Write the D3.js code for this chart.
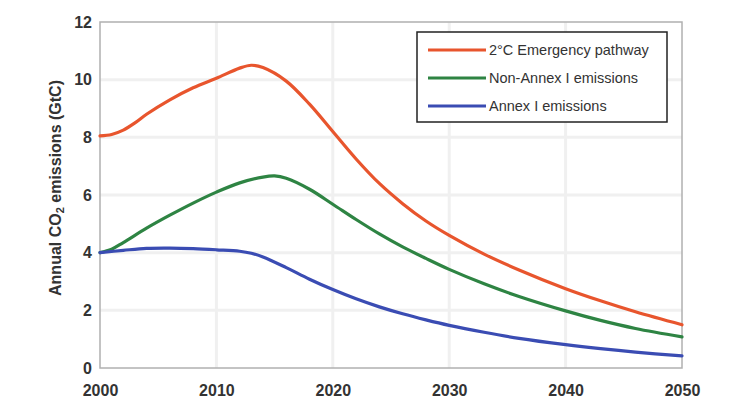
<!DOCTYPE html>
<html>
<head>
<meta charset="utf-8">
<script src="https://cdn.jsdelivr.net/npm/d3@7/dist/d3.min.js"></script>
<style>
  html, body { margin: 0; padding: 0; background: #fff; }
  svg { display: block; }
</style>
</head>
<body>
<svg id="chart" width="734" height="401"></svg>
<script>
// ---- data ----
const seriesNames = ["2°C Emergency pathway", "Non-Annex I emissions", "Annex I emissions"];
const seriesColors = ["#e8552d", "#2e8443", "#3a4cb3"];

const emergencyYears  = [2000, 2001, 2002, 2003, 2004, 2006, 2008, 2010, 2012, 2013, 2014, 2016, 2018, 2020, 2022, 2024, 2026, 2028, 2030, 2033, 2036, 2040, 2043, 2046, 2050];
const emergencyValues = [8.05, 8.1, 8.25, 8.5, 8.8, 9.3, 9.72, 10.05, 10.4, 10.5, 10.42, 9.95, 9.15, 8.2, 7.25, 6.4, 5.7, 5.1, 4.6, 3.95, 3.4, 2.75, 2.33, 1.95, 1.5];

const nonAnnexYears  = [2000, 2001, 2002, 2004, 2006, 2008, 2010, 2012, 2014, 2015, 2016, 2018, 2020, 2022, 2024, 2026, 2028, 2030, 2033, 2036, 2040, 2043, 2046, 2050];
const nonAnnexValues = [4.0, 4.12, 4.35, 4.85, 5.3, 5.72, 6.1, 6.42, 6.62, 6.66, 6.58, 6.2, 5.68, 5.15, 4.65, 4.2, 3.8, 3.42, 2.92, 2.48, 1.98, 1.65, 1.37, 1.08];

const annexYears  = [2000, 2002, 2004, 2006, 2008, 2010, 2012, 2013, 2014, 2016, 2018, 2020, 2022, 2024, 2026, 2028, 2030, 2033, 2036, 2040, 2043, 2046, 2050];
const annexValues = [4.0, 4.08, 4.15, 4.16, 4.14, 4.1, 4.05, 3.98, 3.85, 3.48, 3.08, 2.72, 2.4, 2.12, 1.88, 1.67, 1.48, 1.24, 1.03, 0.81, 0.67, 0.55, 0.42];

const xTicks = [2000, 2010, 2020, 2030, 2040, 2050];
const yTicks = [0, 2, 4, 6, 8, 10, 12];

// ---- chart ----
const svg = d3.select("#chart");
const pLeft = 100, pRight = 682, pTop = 22, pBottom = 368;

const x = d3.scaleLinear().domain([2000, 2050]).range([pLeft, pRight]);
const y = d3.scaleLinear().domain([0, 12]).range([pBottom, pTop]);

// gridlines
svg.append("g").selectAll("line").data(xTicks.slice(1, -1)).join("line")
  .attr("x1", d => x(d)).attr("x2", d => x(d))
  .attr("y1", pTop).attr("y2", pBottom)
  .attr("stroke", "#f0f0f0").attr("stroke-width", 3);
svg.append("g").selectAll("line").data(yTicks.slice(1, -1)).join("line")
  .attr("x1", pLeft).attr("x2", pRight)
  .attr("y1", d => y(d)).attr("y2", d => y(d))
  .attr("stroke", "#f0f0f0").attr("stroke-width", 3);

// frame
svg.append("rect")
  .attr("x", pLeft).attr("y", pTop)
  .attr("width", pRight - pLeft).attr("height", pBottom - pTop)
  .attr("fill", "none").attr("stroke", "#b0b0b0").attr("stroke-width", 1.5);

// axes
const xAxis = svg.append("g").attr("transform", `translate(0,${pBottom})`)
  .call(d3.axisBottom(x).tickValues(xTicks).tickFormat(d3.format("d")).tickSize(0).tickPadding(17));
xAxis.select(".domain").remove();
xAxis.selectAll("text")
  .attr("font-family", "Liberation Sans, Arial, sans-serif")
  .attr("font-size", 16).attr("font-weight", "bold").attr("fill", "#333");

const yAxis = svg.append("g").attr("transform", `translate(${pLeft},0)`)
  .call(d3.axisLeft(y).tickValues(yTicks).tickSize(0).tickPadding(8));
yAxis.select(".domain").remove();
yAxis.selectAll("text")
  .attr("font-family", "Liberation Sans, Arial, sans-serif")
  .attr("font-size", 16).attr("font-weight", "bold").attr("fill", "#333");

// y-axis title
const yt = svg.append("text")
  .attr("transform", `translate(61,188) rotate(-90)`)
  .attr("text-anchor", "middle")
  .attr("font-family", "Liberation Sans, Arial, sans-serif")
  .attr("font-size", 16).attr("font-weight", "bold").attr("fill", "#333");
yt.append("tspan").text("Annual CO");
yt.append("tspan").attr("baseline-shift", "-30%").attr("font-size", 11).text("2");
yt.append("tspan").text(" emissions (GtC)");

// lines
const line = d3.line().x(d => x(d[0])).y(d => y(d[1])).curve(d3.curveCatmullRom.alpha(0.5));
const series = [
  d3.zip(emergencyYears, emergencyValues),
  d3.zip(nonAnnexYears, nonAnnexValues),
  d3.zip(annexYears, annexValues)
];
svg.append("g").selectAll("path").data(series).join("path")
  .attr("d", line)
  .attr("fill", "none")
  .attr("stroke", (d, i) => seriesColors[i])
  .attr("stroke-width", 3.2)
  .attr("stroke-linejoin", "round").attr("stroke-linecap", "round");

// legend
const lg = svg.append("g");
lg.append("rect").attr("x", 417).attr("y", 32).attr("width", 250).attr("height", 90)
  .attr("fill", "#fff").attr("stroke", "#222").attr("stroke-width", 1.5);
const items = lg.selectAll("g").data(seriesNames).join("g")
  .attr("transform", (d, i) => `translate(0,${50 + i * 28})`);
items.append("line").attr("x1", 428).attr("x2", 486).attr("y1", 0).attr("y2", 0)
  .attr("stroke", (d, i) => seriesColors[i]).attr("stroke-width", 3.2);
items.append("text").attr("x", 489).attr("y", 0).attr("dy", "0.35em")
  .attr("font-family", "Liberation Sans, Arial, sans-serif")
  .attr("font-size", 14.5).attr("fill", "#333")
  .text(d => d);
</script>
</body>
</html>
